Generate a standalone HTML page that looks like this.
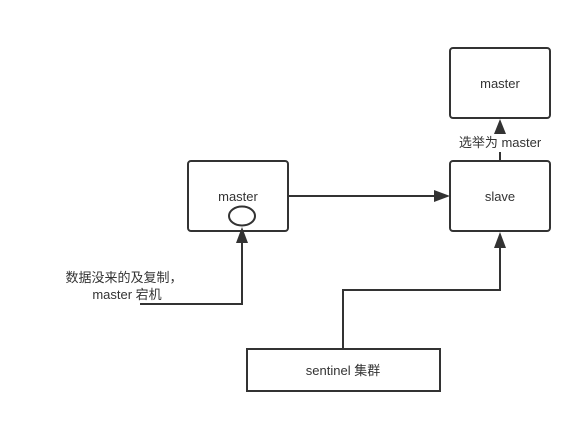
<!DOCTYPE html>
<html><head><meta charset="utf-8"><style>
html,body{margin:0;padding:0;background:#fff;}
svg{display:block;}
text{font-family:"Liberation Sans","Noto Sans CJK SC",sans-serif;font-size:13px;fill:#333;}
</style></head><body>
<svg width="582" height="424" viewBox="0 0 582 424" xmlns="http://www.w3.org/2000/svg">
<g fill="none" stroke="#333" stroke-width="2">
<rect x="450" y="48" width="100" height="70" rx="3"/>
<rect x="450" y="161" width="100" height="70" rx="3"/>
<rect x="188" y="161" width="100" height="70" rx="3"/>
<rect x="247" y="349" width="193" height="42"/>
<ellipse cx="242" cy="216" rx="13" ry="9.5"/>
<polyline points="288,196 436,196"/>
<polyline points="500,161 500,152"/>
<polyline points="500,133 500,130"/>
<polyline points="343,349 343,290 500,290 500,246"/>
<polyline points="140,304 242,304 242,241"/>
</g>
<g fill="#333">
<polygon points="450,196 434,190 434,202"/>
<polygon points="500,119 494,134 506,134"/>
<polygon points="500,232 494,248 506,248"/>
<polygon points="242,227 236,243 248,243"/>
</g>
<text x="500" y="88" text-anchor="middle">master</text>
<text x="500" y="201" text-anchor="middle">slave</text>
<text x="238" y="201" text-anchor="middle">master</text>
<text x="500" y="147" text-anchor="middle">选举为 master</text>
<text x="343" y="375" text-anchor="middle">sentinel 集群</text>
<text x="124" y="282" text-anchor="middle">数据没来的及复制，</text>
<text x="127" y="299" text-anchor="middle">master 宕机</text>
</svg>
</body></html>
